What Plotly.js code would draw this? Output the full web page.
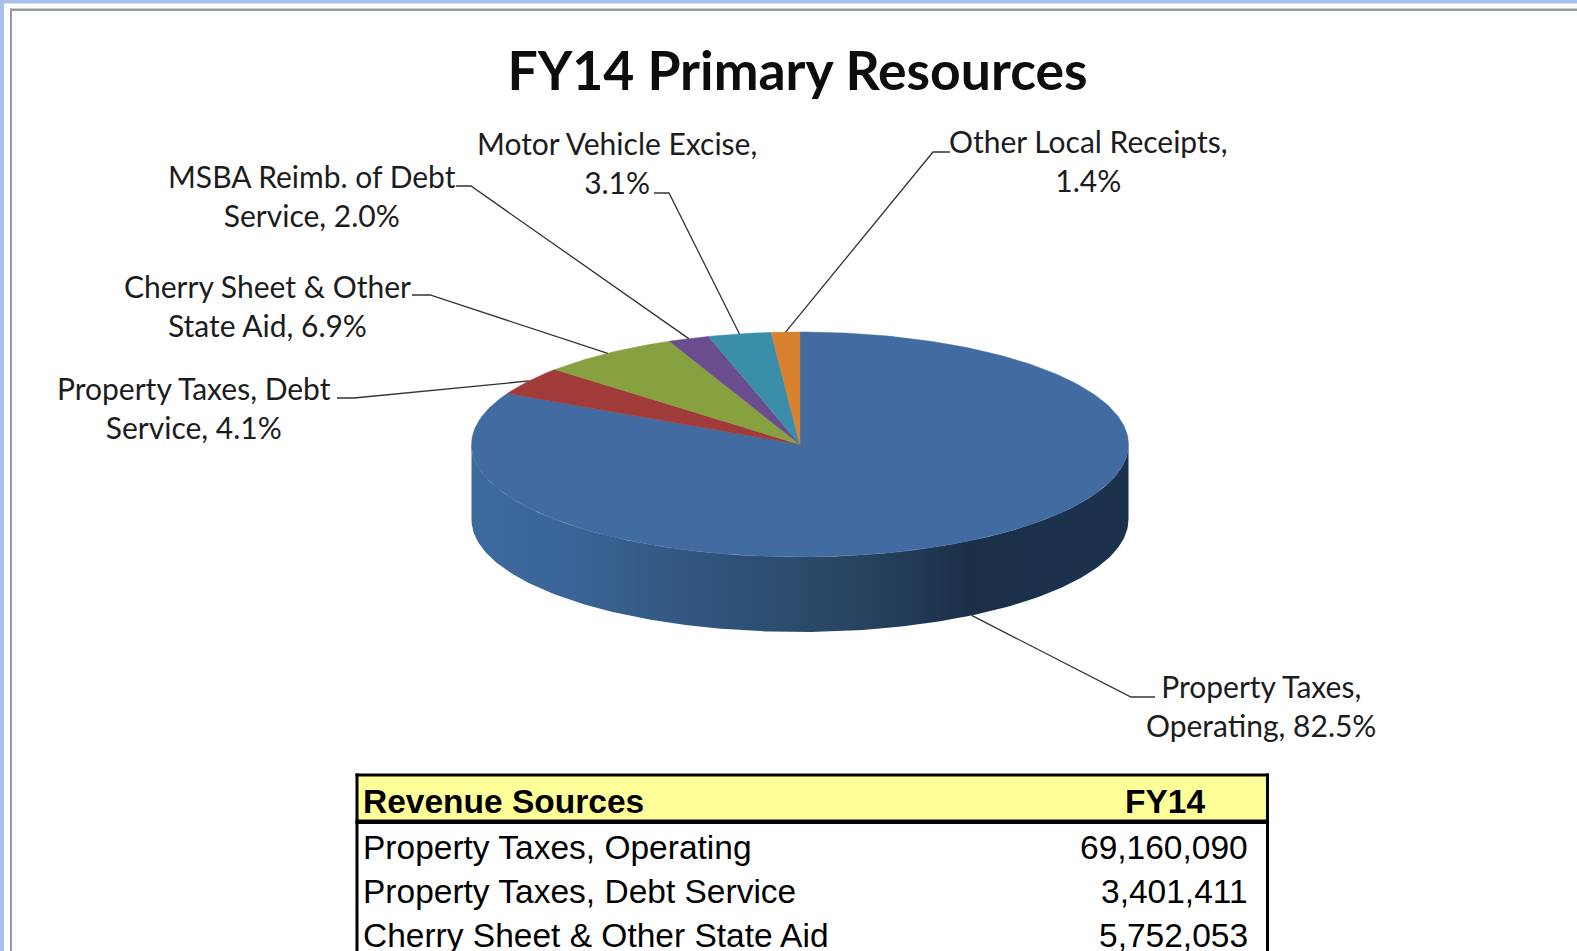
<!DOCTYPE html>
<html>
<head>
<meta charset="utf-8">
<script src="https://cdn.plot.ly/plotly-3.0.1.min.js"></script>
<style>
html,body{margin:0;padding:0;background:#fff;overflow:hidden}
#chart{width:1577px;height:951px}
</style>
</head>
<body>
<div id="chart"></div>
<script>
// ---------- data ----------
const sliceNames = ["Property Taxes, Operating","Property Taxes, Debt Service","Cherry Sheet & Other State Aid","MSBA Reimb. of Debt Service","Motor Vehicle Excise","Other Local Receipts"];
const slicePercents = [82.5, 4.1, 6.9, 2.0, 3.1, 1.4];
const sliceColors = ["#426ba1","#a03b39","#87a140","#6b4c8e","#3b8ea9","#d9812f"];
const labelLines = [
  "Property Taxes,<br>Operating, 82.5%",
  "Property Taxes, Debt<br>Service, 4.1%",
  "Cherry Sheet &amp; Other<br>State Aid, 6.9%",
  "MSBA Reimb. of Debt<br>Service, 2.0%",
  "Motor Vehicle Excise,<br>3.1%",
  "Other Local Receipts,<br>1.4%"
];
const tableHeader = ["Revenue Sources","FY14"];
const tableSources = ["Property Taxes, Operating","Property Taxes, Debt Service","Cherry Sheet &amp; Other State Aid"];
const tableAmounts = ["69,160,090","3,401,411","5,752,053"];

// ---------- layout constants (pixels of the page) ----------
const W = 1577, H = 951;
const cx = 800, cy = 444.5, rx = 328.5, ry = 112.5, depth = 75;
const labelPos = [
  {x:1261, y:705, elbow:[1131,697], end:[1155,697], side:true},
  {x:194,  y:407, elbow:[354,398],  end:[337,398]},
  {x:267.5,y:305, elbow:[430,295],  end:[412,295]},
  {x:312,  y:195, elbow:[471,186],  end:[456,186]},
  {x:617,  y:162, elbow:[669,193],  end:[654,193]},
  {x:1088, y:160, elbow:[933,152],  end:[950,152]}
];
const tableFont = "Liberation Sans, Arial, sans-serif";
const tableRowY = [847, 891, 935];

// ---------- geometry from the values ----------
function pt(deg, dy){
  const a = deg*Math.PI/180;
  return [cx + rx*Math.sin(a), cy - ry*Math.cos(a) + (dy||0)];
}
const traces = [];
const wx = [], wy = [];
for(let d=270; d>=90; d-=1){ const p=pt(d,0); wx.push(p[0]); wy.push(p[1]); }
for(let d=90; d<=270; d+=1){ const p=pt(d,depth); wx.push(p[0]); wy.push(p[1]); }
wx.push(wx[0]); wy.push(wy[0]);
traces.push({type:"scatter",mode:"lines",x:wx,y:wy,fill:"toself",hoverinfo:"skip",showlegend:false,
  line:{width:0,color:"#2b4a70"},
  fillgradient:{type:"horizontal",colorscale:[[0,"#3d6a9f"],[0.12,"#3b669a"],[0.4,"#2f5178"],[0.6,"#27435f"],[0.76,"#1b2f49"],[1,"#1c324c"]]}
});
const total = slicePercents.reduce((s,v)=>s+v,0);
let acc = 0;
const mids = [];
slicePercents.forEach((v,i)=>{
  const a0 = acc/total*360, a1 = (acc+v)/total*360;
  mids.push((a0+a1)/2);
  const xs=[cx], ys=[cy];
  const n = Math.max(4, Math.ceil(a1-a0));
  for(let k=0;k<=n;k++){ const p=pt(a0+(a1-a0)*k/n); xs.push(p[0]); ys.push(p[1]); }
  xs.push(cx); ys.push(cy);
  traces.push({type:"scatter",mode:"lines",x:xs,y:ys,fill:"toself",fillcolor:sliceColors[i],name:sliceNames[i],
    line:{width:0.5,color:sliceColors[i]},hoverinfo:"name",showlegend:false});
  acc += v;
});
labelPos.forEach((l,i)=>{
  const rim = pt(mids[i], l.side?depth:0);
  traces.push({type:"scatter",mode:"lines",x:[rim[0],l.elbow[0],l.end[0]],y:[rim[1],l.elbow[1],l.end[1]],
    line:{width:1.3,color:"#333"},hoverinfo:"skip",showlegend:false});
});

const frame = (x0,y0,x1,y1,color)=>({type:"rect",xref:"x",yref:"y",x0,y0,x1,y1,fillcolor:color,line:{width:0},layer:"below"});
const shapes = [
  frame(0,0,W,3.5,"#a9c1ea"), frame(0,0,4,H,"#a9c1ea"),
  frame(10,8.5,W,11,"#9a9a9a"), frame(10,8.5,12,H,"#9a9a9a"),
  frame(357,775,1267,822,"#ffff99"),
  frame(355.5,773.5,1269,776.5,"#000"),
  frame(355.5,819.5,1269,824,"#000"),
  frame(355.5,773.5,358.5,H,"#000"),
  frame(1266,773.5,1269,H,"#000")
];

const annotations = labelPos.map((l,i)=>({
  xref:"x",yref:"y",x:l.x,y:l.y,text:labelLines[i],showarrow:false,align:"center",
  xanchor:"center",yanchor:"middle",font:{family:"Lato, sans-serif",size:30,color:"#1c1c1c"}
}));
const cellText = (text,x,y,anchor,bold)=>({xref:"x",yref:"y",x,y,text:bold?"<b>"+text+"</b>":text,showarrow:false,
  xanchor:anchor,yanchor:"middle",borderpad:0,font:{family:tableFont,size:33.5,color:"#000"}});
annotations.push(cellText(tableHeader[0],362,801,"left",true));
annotations.push(cellText(tableHeader[1],1165,801,"center",true));
tableSources.forEach((t,i)=>{
  annotations.push(cellText(t,362,tableRowY[i],"left",false));
  annotations.push(cellText(tableAmounts[i],1249,tableRowY[i],"right",false));
});

const layout = {
  width:W,height:H,
  margin:{l:0,r:0,t:0,b:0,pad:0},
  paper_bgcolor:"#fff",plot_bgcolor:"#fff",
  title:{text:"<b>FY14 Primary Resources</b>",x:797.5/W,xanchor:"center",y:1-71/H,yanchor:"middle",
    font:{family:"Lato, sans-serif",size:53.5,color:"#0d0d0d"}},
  xaxis:{range:[0,W],visible:false,fixedrange:true},
  yaxis:{range:[H,0],visible:false,fixedrange:true},
  showlegend:false,
  shapes,annotations
};
Plotly.newPlot("chart",traces,layout,{displayModeBar:false,responsive:false});
</script>
</body>
</html>
